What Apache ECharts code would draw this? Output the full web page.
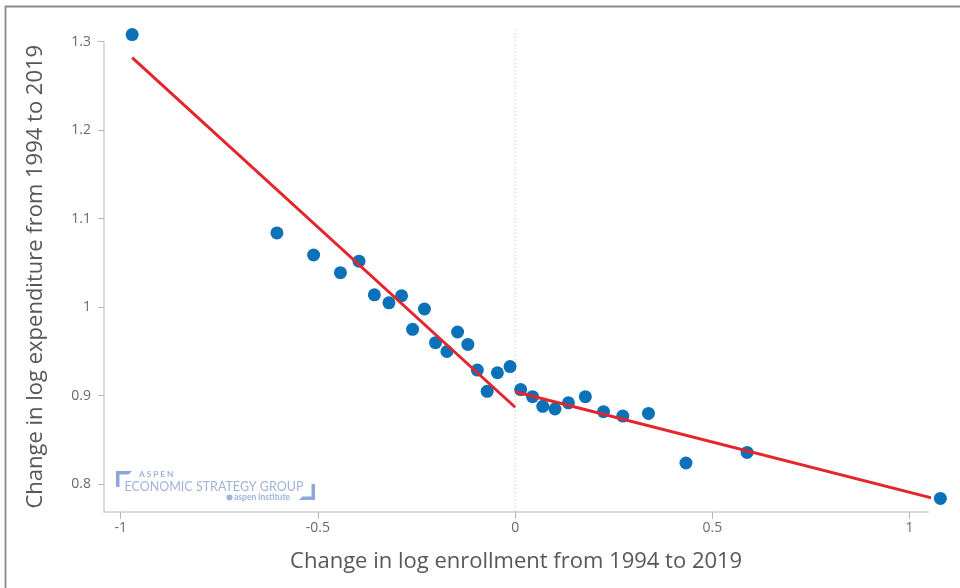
<!DOCTYPE html>
<html>
<head>
<meta charset="utf-8">
<script src="https://cdn.jsdelivr.net/npm/echarts@6/dist/echarts.min.js"></script>
<style>
  html, body { margin: 0; padding: 0; background: #ffffff; }
  #chart { width: 960px; height: 588px; }
</style>
</head>
<body>
<div id="chart"></div>
<script>
// Binned state averages: change in log enrollment vs. change in log expenditure, 1994-2019
const enrollChange = [
  -0.971, -0.604, -0.511, -0.443, -0.396, -0.357, -0.320, -0.288, -0.260, -0.230,
  -0.202, -0.173, -0.146, -0.120, -0.096, -0.071, -0.045, -0.013, 0.014, 0.044,
  0.070, 0.101, 0.135, 0.178, 0.224, 0.273, 0.338, 0.433, 0.588, 1.078
];
const expendChange = [
  1.308, 1.084, 1.059, 1.039, 1.052, 1.014, 1.005, 1.013, 0.975, 0.998,
  0.960, 0.950, 0.972, 0.958, 0.929, 0.905, 0.926, 0.933, 0.907, 0.899,
  0.888, 0.885, 0.892, 0.899, 0.882, 0.877, 0.880, 0.824, 0.836, 0.784
];

// Separate linear fits for shrinking (x < 0) and growing (x > 0) enrollment
const fitLeftX = [-0.971, 0];
const fitLeftY = [1.282, 0.887];
const fitRightX = [0, 1.078];
const fitRightY = [0.9045, 0.782];

// Zero-change reference line
const zeroLineX = [0, 0];
const zeroLineY = [1.314, 0.769];

const xTicks = [-1, -0.5, 0, 0.5, 1];
const yTicks = [0.8, 0.9, 1, 1.1, 1.2, 1.3];

const xTitle = 'Change in log enrollment from 1994 to 2019';
const yTitle = 'Change in log expenditure from 1994 to 2019';

const zip = (xs, ys) => xs.map((x, i) => [x, ys[i]]);

const FONT = '"Open Sans", "Noto Sans", sans-serif';
const LOGO_FONT = 'Lato, "Noto Sans", sans-serif';
const LOGO_BLUE = '#9fb3dd';
const LOGO_DARK = '#8ea7da';

const chart = echarts.init(document.getElementById('chart'), null, { renderer: 'canvas' });

chart.setOption({
  animation: false,
  backgroundColor: '#ffffff',
  grid: { left: 104, right: 31.7, top: 41.7, bottom: 76.3, containLabel: false },
  xAxis: {
    type: 'value',
    min: -1.0424,
    max: 1.0474,
    splitLine: { show: false },
    axisLine: { show: true, onZero: false, lineStyle: { color: '#cfcfcf', width: 1.5 } },
    axisTick: { show: true, length: 7, lineStyle: { color: '#b5b5b5', width: 1 }, customValues: xTicks },
    axisLabel: {
      customValues: xTicks,
      color: '#6a6a6a', fontSize: 14, fontFamily: FONT, margin: 9,
      formatter: v => String(v)
    },
    name: xTitle,
    nameLocation: 'middle',
    nameGap: 39,
    nameTextStyle: { color: '#575757', fontSize: 22, fontFamily: FONT }
  },
  yAxis: {
    type: 'value',
    min: 0.769,
    max: 1.3,
    splitLine: { show: false },
    axisLine: { show: true, onZero: false, lineStyle: { color: '#cfcfcf', width: 1.5 } },
    axisTick: { show: true, length: 6, lineStyle: { color: '#b5b5b5', width: 1 }, customValues: yTicks },
    axisLabel: {
      customValues: yTicks,
      color: '#6a6a6a', fontSize: 14, fontFamily: FONT, margin: 13,
      formatter: v => String(v)
    },
    name: yTitle,
    nameLocation: 'middle',
    nameGap: 57,
    nameTextStyle: { color: '#575757', fontSize: 22, fontFamily: FONT }
  },
  series: [
    {
      type: 'line',
      data: zip(zeroLineX, zeroLineY),
      symbol: 'none',
      clip: false,
      silent: true,
      z: 1,
      lineStyle: { color: '#c4c4c4', width: 1, type: [1.3, 2.4] }
    },
    {
      type: 'scatter',
      data: zip(enrollChange, expendChange),
      symbol: 'circle',
      symbolSize: 13,
      clip: false,
      z: 2,
      itemStyle: { color: '#0b71b9', opacity: 1 }
    },
    {
      type: 'line',
      data: zip(fitLeftX, fitLeftY),
      symbol: 'none',
      clip: false,
      z: 3,
      lineStyle: { color: '#e3262b', width: 3 }
    },
    {
      type: 'line',
      data: zip(fitRightX, fitRightY),
      symbol: 'none',
      clip: false,
      z: 3,
      lineStyle: { color: '#e3262b', width: 3 }
    }
  ],
  graphic: [
    // outer frame
    {
      type: 'rect', silent: true, z: 0,
      shape: { x: 5.5, y: 6.5, width: 1200, height: 1200 },
      style: { fill: 'none', stroke: '#8a8a8a', lineWidth: 1.8 }
    },
    // logo: top-left bracket
    {
      type: 'polygon', silent: true,
      shape: { points: [[116, 471], [132, 471], [128.5, 474.5], [119.5, 474.5], [119.5, 487], [116, 487]] },
      style: { fill: LOGO_DARK }
    },
    // logo: bottom-right bracket
    {
      type: 'polygon', silent: true,
      shape: { points: [[315, 484], [315, 500], [299, 500], [302.5, 496.5], [311.5, 496.5], [311.5, 484]] },
      style: { fill: LOGO_DARK }
    },
    {
      type: 'text', silent: true,
      style: {
        x: 139, y: 474, text: 'A S P E N', fill: LOGO_BLUE,
        font: 'bold 8.2px ' + LOGO_FONT, textVerticalAlign: 'middle'
      }
    },
    {
      type: 'text', silent: true,
      style: {
        x: 124.5, y: 486.5, text: 'ECONOMIC STRATEGY GROUP', fill: LOGO_BLUE,
        font: '12.5px ' + LOGO_FONT, textVerticalAlign: 'middle'
      }
    },
    // leaf mark before "aspen institute"
    {
      type: 'circle', silent: true,
      shape: { cx: 229.5, cy: 497.5, r: 3 },
      style: { fill: LOGO_BLUE }
    },
    {
      type: 'text', silent: true,
      style: {
        x: 234, y: 497.5, text: 'aspen institute', fill: LOGO_BLUE,
        font: 'bold 8.5px ' + LOGO_FONT, textVerticalAlign: 'middle'
      }
    }
  ]
});
</script>
</body>
</html>
